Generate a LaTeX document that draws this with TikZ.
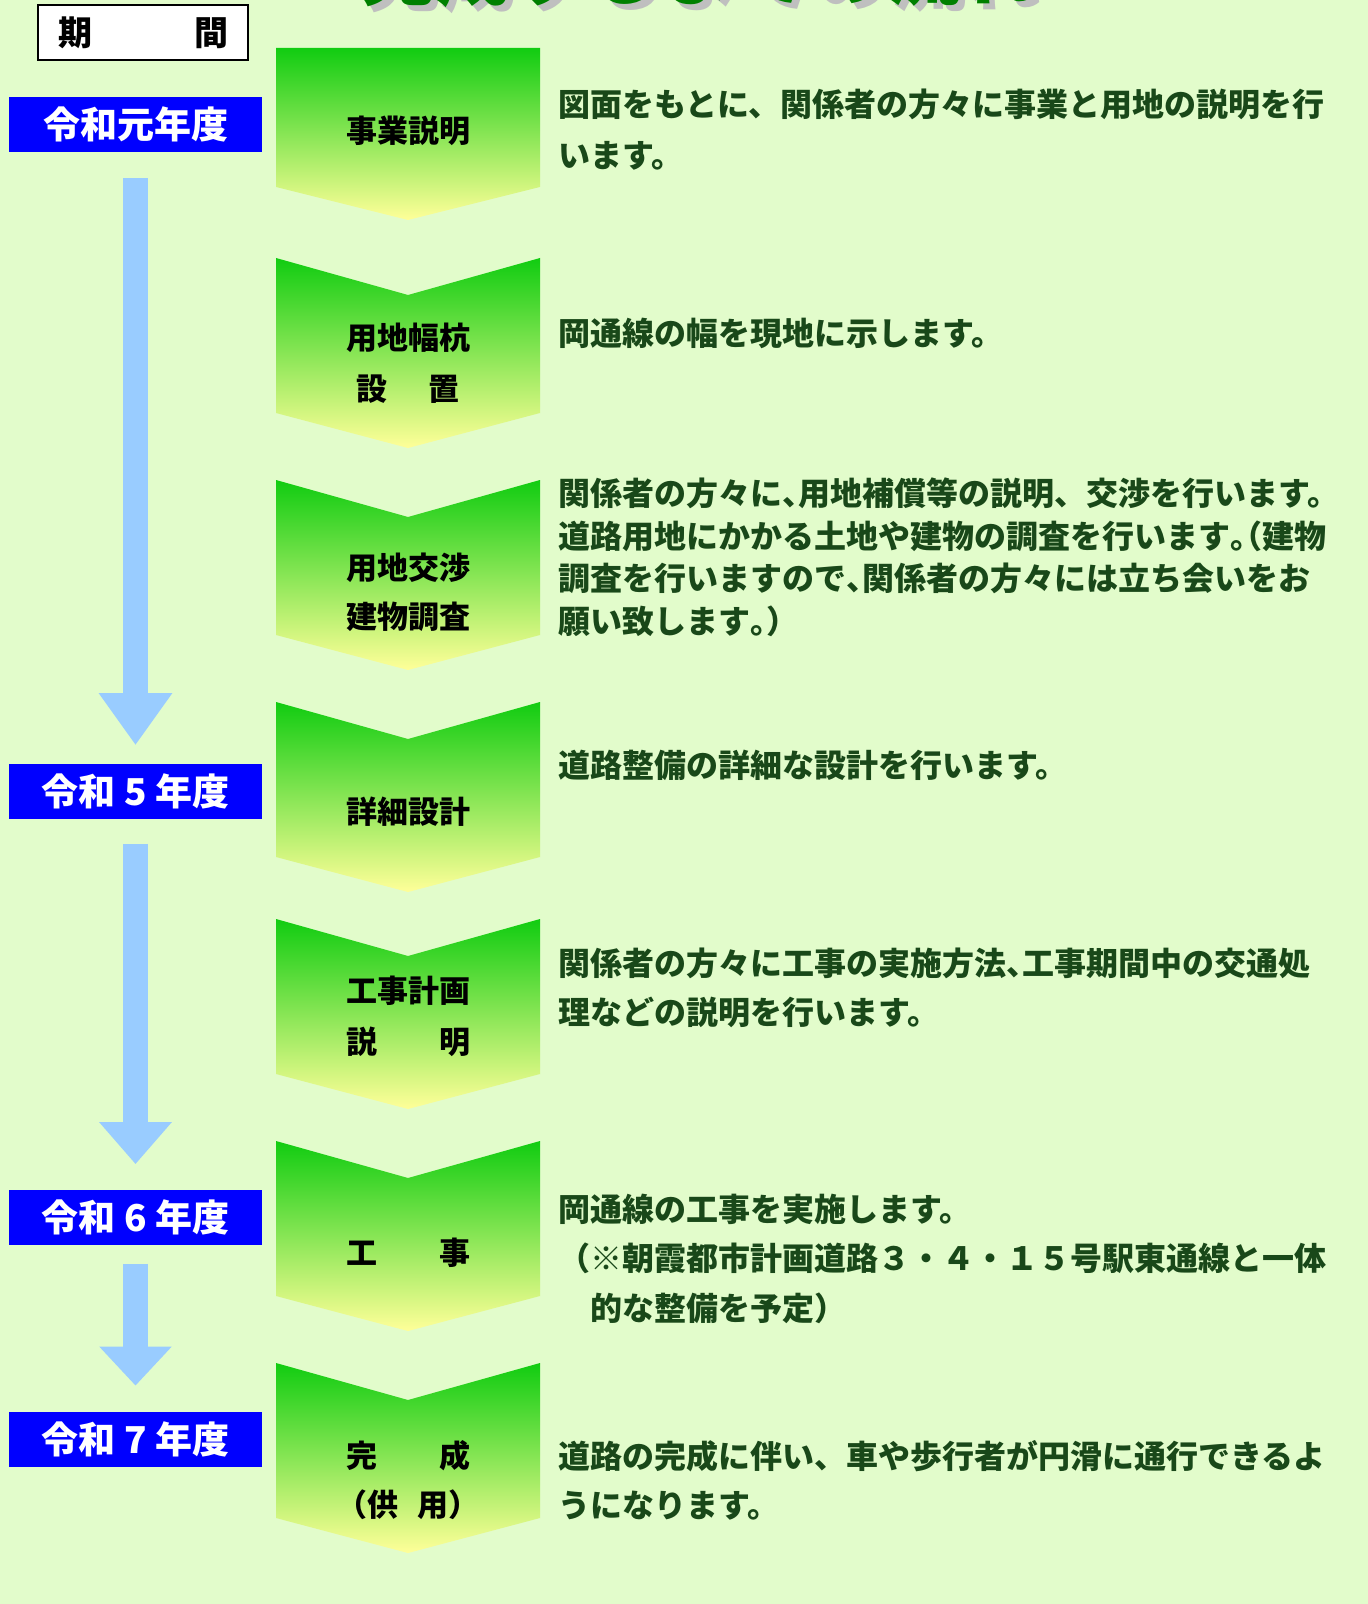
\documentclass[tikz,border=0pt]{standalone}
\usepackage{fontspec}
\newfontfamily\jp{Noto Sans CJK JP}
\usepackage{tikz}
\usetikzlibrary{arrows.meta,positioning}
\definecolor{bgcol}{RGB}{226,252,203}
\definecolor{yearblue}{RGB}{0,0,255}
\definecolor{arrblue}{RGB}{153,204,255}
\definecolor{chevtop}{RGB}{17,204,17}
\definecolor{chevbot}{RGB}{255,255,153}
\definecolor{desccol}{RGB}{25,72,25}
\definecolor{titlegreen}{RGB}{0,128,0}
\newcommand\hw[1]{\makebox[.5em][l]{#1}}
\newcommand\hwr[1]{\makebox[.5em][r]{#1}}

\begin{document}
\begin{tikzpicture}[
    x=0.5pt, y=-0.5pt,
    year/.style={fill=yearblue, text=white, minimum width=126.5pt, minimum height=27.5pt, inner sep=0pt, font=\jp\bfseries\fontsize{18.5}{20}\selectfont},
    period/.style={draw, line width=1pt, fill=white, minimum width=105pt, minimum height=27.5pt, inner sep=0pt, font=\jp\bfseries\fontsize{17}{19}\selectfont},
    chev/.style={top color=chevtop, bottom color=chevbot},
    clbl/.style={anchor=base, align=center, inner sep=0pt, font=\jp\bfseries\fontsize{15.5}{25.5}\selectfont},
    desc/.style={anchor=base west, align=left, inner sep=0pt, text=desccol, font=\jp\bfseries\fontsize{16}{24.6}\selectfont},
    yarr/.style={arrblue, line width=12.5pt},
    ttl/.style={anchor=base, inner sep=0pt, font=\jp\bfseries\fontsize{37.5}{40}\selectfont}
]
\fill[bgcol] (0,0) rectangle (1368,1604);
\useasboundingbox (0,0) rectangle (1368,1604);

\node[ttl, text=black!25] (tshadow) at (704,6) {完成するまでの流れ};
\node[ttl, text=titlegreen] (title) at (698,0) {完成するまでの流れ};

\node[period] (P) at (143,32.5) {期　　　間};

\node[year] (r1) at (135.5,124.5) {令和元年度};
\node[year] (r5) at (135.5,791) {令和 5 年度};
\node[year] (r6) at (135.5,1217) {令和 6 年度};
\node[year] (r7) at (135.5,1439.5) {令和 7 年度};

\draw[yarr, -{Triangle[width=35pt,length=26pt]}, shorten <=13pt, shorten >=9pt] (r1) -- (r5);
\draw[yarr, -{Triangle[width=35pt,length=21pt]}, shorten <=12.5pt, shorten >=12.5pt] (r5) -- (r6);
\draw[yarr, -{Triangle[width=35pt,length=19.5pt]}, shorten <=9.5pt, shorten >=13pt] (r6) -- (r7);

\shade[chev] (276,48) -- (540,48) -- (540,187) -- (408,220) -- (276,187) -- cycle;
\foreach \t in {258,480,702,919,1141,1363}
  \shade[chev] (276,\t) -- (408,\t+37) -- (540,\t) -- (540,\t+155) -- (408,\t+190) -- (276,\t+155) -- cycle;

\node[clbl] (c1) at (408,143) {事業説明};
\node[clbl] (c2) at (408,401) {用地幅杭\\設\hspace{1.35em}置};
\node[clbl, font=\jp\bfseries\fontsize{15.5}{24.5}\selectfont] (c3) at (408,628) {用地交渉\\建物調査};
\node[clbl] (c4) at (408,823) {詳細設計};
\node[clbl] (c5) at (408,1053) {工事計画\\説　　明};
\node[clbl] (c6) at (408,1264) {工　　事};
\node[clbl, font=\jp\bfseries\fontsize{15.5}{24.5}\selectfont] (c7) at (408,1516) {完　　成\\\hwr{（}供\hspace{.6em}用\hw{）}};

\node[desc, font=\jp\bfseries\fontsize{16}{25.5}\selectfont] (d1) at (558,168) {図面をもとに、関係者の方々に事業と用地の説明を行\\います。};
\node[desc] (d2) at (558,346) {岡通線の幅を現地に示します。};
\node[desc, font=\jp\bfseries\fontsize{16}{21.2}\selectfont] (d3) at (558,633) {関係者の方々に\hw{、}用地補償等の説明、交渉を行います。\\道路用地にかかる土地や建物の調査を行います\hw{。}\hwr{（}建物\\調査を行いますので\hw{、}関係者の方々には立ち会いをお\\願い致します\hw{。}）};
\node[desc] (d4) at (558,777) {道路整備の詳細な設計を行います。};
\node[desc, font=\jp\bfseries\fontsize{16}{24.5}\selectfont] (d5) at (558,1024) {関係者の方々に工事の実施方法\hw{、}工事期間中の交通処\\理などの説明を行います。};
\node[desc, font=\jp\bfseries\fontsize{16}{24.75}\selectfont] (d6) at (558,1320) {岡通線の工事を実施します。\\（※朝霞都市計画道路３・４・１５号駅東通線と一体\\　的な整備を予定）};
\node[desc, font=\jp\bfseries\fontsize{16}{24.5}\selectfont] (d7) at (558,1517) {道路の完成に伴い、車や歩行者が円滑に通行できるよ\\うになります。};
\end{tikzpicture}
\end{document}
